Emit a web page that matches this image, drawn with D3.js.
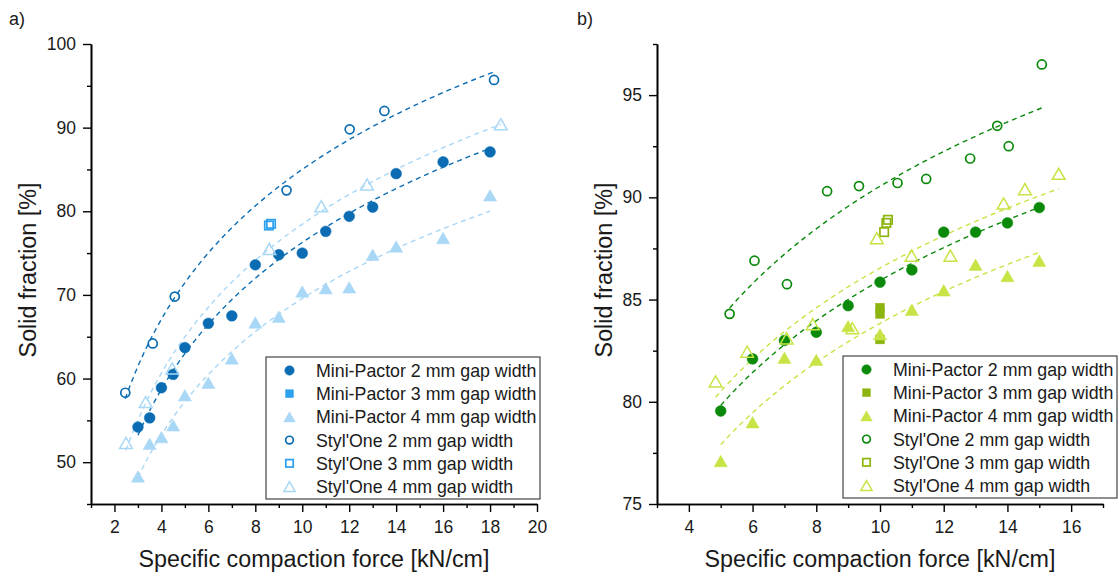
<!DOCTYPE html>
<html>
<head>
<meta charset="utf-8">
<script src="https://cdn.jsdelivr.net/npm/d3@7/dist/d3.min.js"></script>
<style>
body{margin:0;background:#fff}
svg{display:block;font-family:Arial,"Liberation Sans",sans-serif}
</style>
</head>
<body>
<svg id="chart" width="1119" height="578"></svg>
<script>
/* panel a) - blue */
const a_mp2_x = [3,3.5,4,4.5,5,6,7,8,9,10,11,12,13,14,16,18]
const a_mp2_y = [54.2,55.3,58.9,60.5,63.7,66.6,67.5,73.6,74.8,75.0,77.6,79.4,80.5,84.5,85.9,87.1]
const a_mp4_x = [3,3.5,4,4.5,5,6,7,8,9,10,11,12,13,14,16,18]
const a_mp4_y = [48.3,52.2,53.0,54.4,58.0,59.5,62.4,66.7,67.4,70.4,70.8,70.9,74.8,75.8,76.8,81.9]
const a_so2_x = [2.46,3.63,4.57,9.33,12.02,13.5,18.17]
const a_so2_y = [58.3,64.2,69.8,82.5,89.8,92.0,95.7]
const a_so3_x = [8.58,8.67]
const a_so3_y = [78.3,78.5]
const a_so4_x = [2.49,3.33,4.46,8.6,10.81,12.76,18.46]
const a_so4_y = [52.3,57.2,61.2,75.5,80.6,83.2,90.4]

/* panel b) - green */
const b_mp2_x = [5,6,7,8,9,10,11,12,13,14,15]
const b_mp2_y = [79.55,82.1,83.0,83.4,84.7,85.85,86.45,88.3,88.3,88.75,89.5]
const b_mp3_x = [10,10,10]
const b_mp3_y = [84.6,84.3,83.05]
const b_mp4_x = [5,6,7,8,9,10,11,12,13,14,15]
const b_mp4_y = [77.1,79.0,82.15,82.05,83.7,83.3,84.5,85.45,86.7,86.15,86.9]
const b_so2_x = [5.28,6.06,7.08,8.34,9.34,10.55,11.45,12.83,13.68,14.04,15.08]
const b_so2_y = [84.3,86.9,85.75,90.3,90.55,90.7,90.9,91.9,93.5,92.5,96.5]
const b_so3_x = [10.13,10.2,10.25]
const b_so3_y = [88.3,88.75,88.9]
const b_so4_x = [4.84,5.83,7.07,7.89,9.13,9.9,10.99,12.21,13.88,14.55,15.61]
const b_so4_y = [81.0,82.45,83.1,83.8,83.6,88.0,87.15,87.15,89.7,90.4,91.15]

const legendNames = ['Mini-Pactor 2 mm gap width','Mini-Pactor 3 mm gap width','Mini-Pactor 4 mm gap width',
                     "Styl'One 2 mm gap width","Styl'One 3 mm gap width","Styl'One 4 mm gap width"]
const shapes = ['circle','square','triangle','circle','square','triangle']
const filled = [true,true,true,false,false,false]
const hasFit = [true,false,true,true,false,true]

const blues  = ['#0b6cb3','#2ba0ee','#a9d7f6','#0b6cb3','#2ba0ee','#a9d7f6']
const greens = ['#0a890a','#8db50f','#c6e445','#0a890a','#8db50f','#c6e445']

const xTicksA = [2,4,6,8,10,12,14,16,18,20]
const yTicksA = [50,60,70,80,90,100]
const xTicksB = [4,6,8,10,12,14,16]
const yTicksB = [75,80,85,90,95]

const svg = d3.select('#chart')

/* least squares y = a + b*ln(x) */
function logFit(xs, ys){
    const lx = xs.map(Math.log)
    const mx = d3.mean(lx), my = d3.mean(ys)
    const b = d3.sum(lx, (v,i)=>(v-mx)*(ys[i]-my)) / d3.sum(lx, v=>(v-mx)**2)
    return [my - b*mx, b]
}

function drawSymbol(g, shape, isFilled, color, cx, cy, sz){
    if (shape=='circle'){
        g.append('circle').attr('cx',cx).attr('cy',cy)
            .attr('r', isFilled ? sz*0.5 : sz*0.5-0.9)
            .attr('fill', isFilled ? color : 'none')
            .attr('stroke', color).attr('stroke-width', isFilled ? 0.5 : 1.7)
    } else if (shape=='square'){
        const s = isFilled ? sz*0.82 : sz*0.78
        g.append('rect').attr('x',cx-s/2).attr('y',cy-s/2).attr('width',s).attr('height',s)
            .attr('fill', isFilled ? color : 'none')
            .attr('stroke', color).attr('stroke-width', isFilled ? 0.5 : 1.7)
    } else {
        const w = isFilled ? sz*1.22 : sz*1.18, h = w*0.87
        g.append('path')
            .attr('d', `M${cx},${cy-h/2}L${cx+w/2},${cy+h/2}L${cx-w/2},${cy+h/2}Z`)
            .attr('fill', isFilled ? color : 'none')
            .attr('stroke', color).attr('stroke-width', isFilled ? 0.5 : 1.5)
            .attr('stroke-linejoin','miter')
    }
}

function panel(opt){
    const x = d3.scaleLinear().domain(opt.xDomain).range([opt.left, opt.right])
    const y = d3.scaleLinear().domain(opt.yDomain).range([opt.bottom, opt.top])
    const g = svg.append('g')

    /* minor ticks */
    g.append('g').attr('transform',`translate(0,${opt.bottom})`)
        .call(d3.axisBottom(x).tickValues(opt.xMinor).tickSize(4).tickSizeOuter(0).tickFormat(''))
    g.append('g').attr('transform',`translate(${opt.left},0)`)
        .call(d3.axisLeft(y).tickValues(opt.yMinor).tickSize(4).tickSizeOuter(0).tickFormat(''))

    /* major ticks */
    g.append('g').attr('transform',`translate(0,${opt.bottom})`)
        .call(d3.axisBottom(x).tickValues(opt.xTicks).tickSize(8).tickSizeOuter(0).tickPadding(9))
    g.append('g').attr('transform',`translate(${opt.left},0)`)
        .call(d3.axisLeft(y).tickValues(opt.yTicks).tickSize(8).tickSizeOuter(0).tickPadding(7))

    g.selectAll('.domain').attr('stroke','#000').attr('stroke-width',1.6)
    g.selectAll('.tick line').attr('stroke','#000').attr('stroke-width',1.4)
    g.selectAll('.tick text').attr('font-size',17.5).attr('fill','#1a1a1a')
        .attr('font-family','Arial,"Liberation Sans",sans-serif')

    /* axis titles */
    g.append('text').attr('x',(opt.left+opt.right)/2).attr('y',567)
        .attr('text-anchor','middle').attr('font-size',23.3).attr('fill','#1a1a1a')
        .text('Specific compaction force [kN/cm]')
    g.append('text')
        .attr('transform',`translate(${opt.ytitleX},${(opt.top+opt.bottom)/2 - 4}) rotate(-90)`)
        .attr('text-anchor','middle').attr('font-size',23.3).attr('fill','#1a1a1a')
        .text('Solid fraction [%]')
    g.append('text').attr('x',opt.tagX).attr('y',25).attr('font-size',18).attr('fill','#1a1a1a').text(opt.tag)

    /* fits */
    const line = d3.line().x(d=>x(d[0])).y(d=>y(d[1]))
    opt.series.forEach((s,i)=>{
        if (!hasFit[i]) return
        const [a,b] = logFit(s[0], s[1])
        const [x0,x1] = d3.extent(s[0])
        const pts = d3.range(0,81).map(k=>{
            const xv = x0 + (x1-x0)*k/80
            return [xv, a + b*Math.log(xv)]
        })
        g.append('path').datum(pts).attr('d',line)
            .attr('fill','none').attr('stroke',opt.colors[i])
            .attr('stroke-width',1.4).attr('stroke-dasharray','5,4')
    })

    /* points */
    opt.series.forEach((s,i)=>{
        const gs = g.append('g')
        s[0].forEach((xv,k)=>{
            drawSymbol(gs, shapes[i], filled[i], opt.colors[i], x(xv), y(s[1][k]), 10.8)
        })
    })

    /* legend */
    const lg = g.append('g')
    lg.append('rect').attr('x',opt.legX).attr('y',opt.legY).attr('width',opt.legW).attr('height',142)
        .attr('fill','#fff').attr('stroke','#333').attr('stroke-width',1.1)
    legendNames.forEach((nm,i)=>{
        const cy = opt.legY + 13.5 + i*23.2
        drawSymbol(lg, shapes[i], filled[i], opt.colors[i], opt.legX+23.5, cy, 9.5)
        lg.append('text').attr('x',opt.legX+50).attr('y',cy).attr('dy','0.36em')
            .attr('font-size',17.8).attr('fill','#1a1a1a').text(nm)
    })
}

panel({
    xDomain:[1,20], yDomain:[45,100], left:91, right:537, top:44, bottom:504,
    xTicks:xTicksA, yTicks:yTicksA,
    xMinor:d3.range(1,20,2), yMinor:[45,55,65,75,85,95],
    series:[[a_mp2_x,a_mp2_y],[[],[]],[a_mp4_x,a_mp4_y],[a_so2_x,a_so2_y],[a_so3_x,a_so3_y],[a_so4_x,a_so4_y]],
    colors:blues, ytitleX:36, tag:'a)', tagX:9,
    legX:266, legY:357, legW:274
})

panel({
    xDomain:[3,17], yDomain:[75,97.5], left:657, right:1103, top:44, bottom:504,
    xTicks:xTicksB, yTicks:yTicksB,
    xMinor:d3.range(3,18,2), yMinor:[77.5,82.5,87.5,92.5,97.5],
    series:[[b_mp2_x,b_mp2_y],[b_mp3_x,b_mp3_y],[b_mp4_x,b_mp4_y],[b_so2_x,b_so2_y],[b_so3_x,b_so3_y],[b_so4_x,b_so4_y]],
    colors:greens, ytitleX:612, tag:'b)', tagX:577,
    legX:843, legY:356, legW:274
})
</script>
</body>
</html>
